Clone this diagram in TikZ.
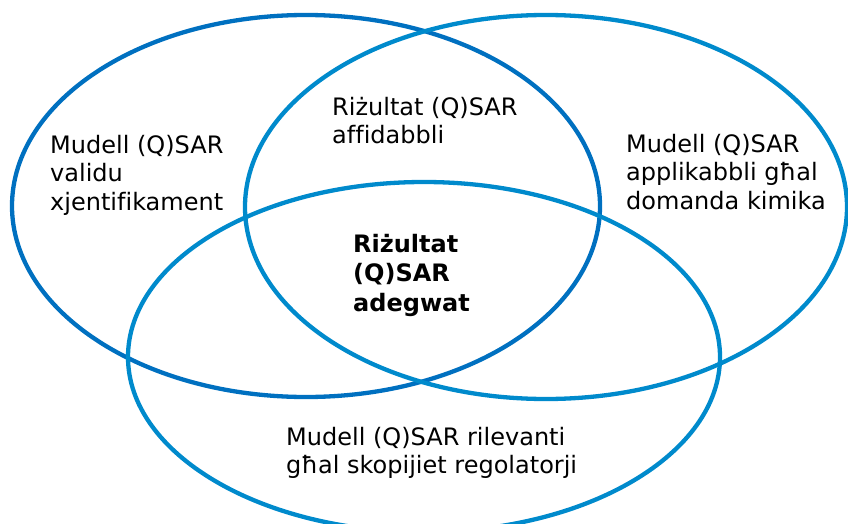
\documentclass[tikz,border=0pt]{standalone}
\usepackage{fontspec}
\setmainfont[Ligatures=NoCommon]{DejaVu Sans}
\usetikzlibrary{positioning}

\definecolor{ringdark}{RGB}{0,112,192}
\definecolor{ringlight}{RGB}{0,138,204}

\begin{document}
\begin{tikzpicture}[x=1pt, y=-1pt,
    ring/.style={line width=4.3pt},
    tag/.style={anchor=north west, inner sep=0pt, align=left,
        font=\fontsize{24}{28.5}\selectfont}]
    \useasboundingbox (0,0) rectangle (848,524);
    \clip (0,0) rectangle (848,524);
    % the three sets
    \def\R{306/206/294/191/ringdark, 546/207/301/192/ringlight, 424/357/296/175/ringlight}
    \foreach \cx/\cy/\rx/\ry/\col in \R
    {
        \draw[ring, \col] (\cx,\cy) ellipse [x radius=\rx pt, y radius=\ry pt];
    }
    % labels
    \node[tag] (valid) at (50,134.7) {Mudell (Q)SAR\\validu\\xjentifikament};
    \node[tag] (reliable) at (332,96.7) {Riżultat (Q)SAR\\affidabbli};
    \node[tag] (domain) at (626,133.7) {Mudell (Q)SAR\\applikabbli għal\\domanda kimika};
    \node[tag, font=\fontsize{24}{29.5}\selectfont\bfseries] (adequate) at (353,233.7) {Riżultat\\(Q)SAR\\adegwat};
    \node[tag] (relevant) at (286,426.7) {Mudell (Q)SAR rilevanti\\għal skopijiet regolatorji};
\end{tikzpicture}
\end{document}
